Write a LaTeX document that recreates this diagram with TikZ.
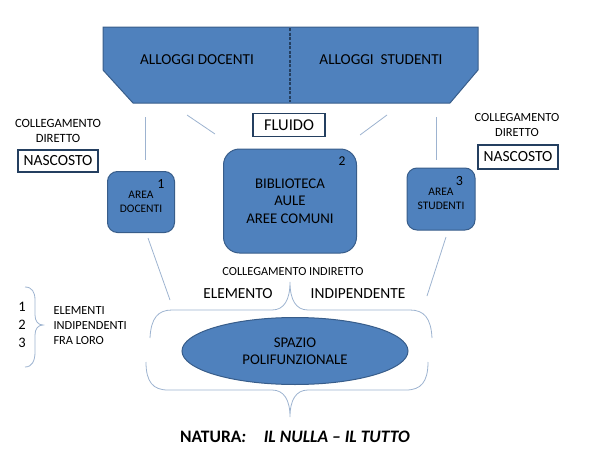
\documentclass[tikz,border=0pt]{standalone}
\usepackage{fontspec}
\setmainfont{Carlito}
\usetikzlibrary{shapes.geometric}

\definecolor{boxblue}{HTML}{4F81BD}
\definecolor{boxedge}{HTML}{385D8A}
\definecolor{linkblue}{HTML}{9DB3D0}
\definecolor{navy}{HTML}{243F60}

\tikzset{
    bluebox/.style={draw=boxedge, fill=boxblue, line width=1pt, rounded corners=10pt, align=center, inner sep=0pt},
    whitebox/.style={draw=navy, line width=1.2pt, fill=white, inner sep=0pt, font=\fontsize{15.5}{18}\selectfont},
    link/.style={draw=linkblue, line width=0.8pt},
    smalltxt/.style={font=\fontsize{12.4}{15}\selectfont, align=center},
    bigtxt/.style={font=\fontsize{15.3}{18}\selectfont, align=center}
}

\begin{document}
\begin{tikzpicture}[x=1pt, y=-1pt]

\useasboundingbox (0,0) rectangle (600,450);

% 顶部的住宿区
\draw[draw=boxedge, fill=boxblue, line width=1pt] (103,27) -- (478,27) -- (478,70) -- (450,103) -- (133,103) -- (103,70) -- cycle;
\draw[navy, line width=2.5pt, dash pattern=on 3pt off 1.5pt] (290,28) -- (290,102);
\node[bigtxt, font=\fontsize{15.2}{18}\selectfont] (doc) at (197,60) {ALLOGGI DOCENTI};
\node[bigtxt, font=\fontsize{15.2}{18}\selectfont] (stu) at (381,60) {ALLOGGI\ \ STUDENTI};

% 连接线的端点
\coordinate (l1a) at (145,117);
\coordinate (l1b) at (145,160);
\coordinate (l2a) at (187,115);
\coordinate (l2b) at (215,134);
\coordinate (l3a) at (387,115);
\coordinate (l3b) at (360,135);
\coordinate (l4a) at (436,117);
\coordinate (l4b) at (436,160);
\coordinate (l5a) at (148,238);
\coordinate (l5b) at (170,300);
\coordinate (l6a) at (446,237);
\coordinate (l6b) at (427,296);

\draw[link] (l1a) -- (l1b);
\draw[link] (l2a) -- (l2b);
\draw[link] (l3a) -- (l3b);
\draw[link] (l4a) -- (l4b);
\draw[link] (l5a) -- (l5b);
\draw[link] (l6a) -- (l6b);

% 文字框
\node[whitebox, minimum width=72pt, minimum height=23pt, font=\fontsize{16.5}{18}\selectfont] (fluido) at (289,125) {FLUIDO};

\node[smalltxt, font=\fontsize{12.6}{14.5}\selectfont] (cdl) at (58,131) {COLLEGAMENTO\\DIRETTO};
\node[whitebox, minimum width=80pt, minimum height=22pt] (nasl) at (58,161) {NASCOSTO};

\node[smalltxt] (cdr) at (517,125) {COLLEGAMENTO\\DIRETTO};
\node[whitebox, minimum width=80pt, minimum height=24pt] (nasr) at (518,157) {NASCOSTO};

% 三个区域
\node[bluebox, minimum width=67pt, minimum height=61pt, font=\fontsize{11.5}{13.5}\selectfont] (area1) at (141,202) {AREA\\DOCENTI};
\node[font=\fontsize{14}{16}\selectfont] (n1) at ([xshift=-14pt, yshift=-13pt]area1.north east) {1};

\node[bluebox, minimum width=133pt, minimum height=104pt, rounded corners=16pt, font=\fontsize{14.8}{17.5}\selectfont] (area2) at (290,201) {BIBLIOTECA\\AULE\\AREE COMUNI};
\node[font=\fontsize{13.5}{15}\selectfont] (n2) at ([xshift=-15pt, yshift=-13pt]area2.north east) {2};

\node[bluebox, minimum width=68pt, minimum height=62pt, font=\fontsize{11.5}{13.5}\selectfont] (area3) at (441,199) {AREA\\STUDENTI};
\node[font=\fontsize{14}{16}\selectfont] (n3) at ([xshift=-16pt, yshift=-14pt]area3.north east) {3};

% 间接连接
\node[smalltxt, font=\fontsize{12.3}{14}\selectfont] (cind) at (293,272) {COLLEGAMENTO INDIRETTO};
\node[bigtxt, font=\fontsize{15.4}{18}\selectfont] (elem) at (238,294) {ELEMENTO};
\node[bigtxt, font=\fontsize{15.4}{18}\selectfont] (indip) at (358,294) {INDIPENDENTE};

% 大括号
\draw[link] (150,338) .. controls (151,318) and (158,310) .. (172,310) -- (272,310)
    .. controls (284,310) and (290,300) .. (290,282)
    .. controls (290,300) and (296,310) .. (308,310) -- (410,310)
    .. controls (424,310) and (431,318) .. (432,338);
\draw[link] (146,362) .. controls (146,382) and (153,390) .. (168,390) -- (272,390)
    .. controls (284,390) and (290,400) .. (290,417)
    .. controls (290,400) and (296,390) .. (308,390) -- (406,390)
    .. controls (421,390) and (428,382) .. (428,362);

% 多功能空间
\node[ellipse, draw=boxedge, fill=boxblue, line width=1pt, minimum width=226pt, minimum height=67pt, align=center, font=\fontsize{14.8}{17}\selectfont] (spazio) at (295,351) {SPAZIO\\POLIFUNZIONALE};

% 左边的小括号
\draw[link] (25,287) .. controls (32,287) and (35,292) .. (35,300) -- (35,315)
    .. controls (35,321) and (38,325) .. (43,325)
    .. controls (38,325) and (35,329) .. (35,335) -- (35,352)
    .. controls (35,361) and (32,367) .. (25,367);
\foreach \n/\y in {1/307,2/325,3/343} {
    \node[font=\fontsize{14.5}{16}\selectfont] (num\n) at (22,\y) {\n};
}
\node[smalltxt, anchor=west, align=left, font=\fontsize{12.4}{15}\selectfont] (indep) at (50,326) {ELEMENTI\\INDIPENDENTI\\FRA LORO};

% 底部文字
\node[font=\fontsize{17.5}{20}\selectfont\bfseries] (natura) at (295,437) {NATURA\textit{:}\quad\textit{IL NULLA – IL TUTTO}};

\end{tikzpicture}
\end{document}
